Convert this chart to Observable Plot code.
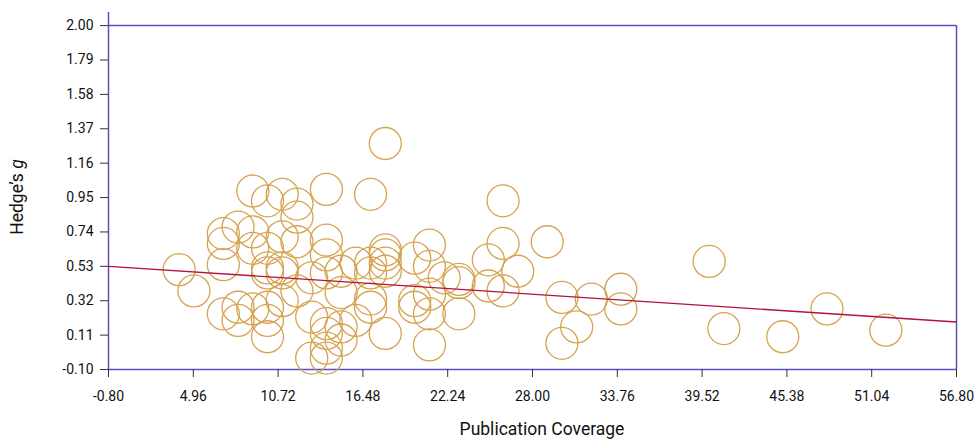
<!DOCTYPE html>
<html><head><meta charset="utf-8">
<script src="https://cdn.jsdelivr.net/npm/d3@7"></script>
<script src="https://cdn.jsdelivr.net/npm/@observablehq/plot@0.6"></script>
<style>body{margin:0;background:#fff;}</style>
</head><body><div id="chart"></div>
<script>
const coverage = [4,5,7,7,7,8,7,8,8,9,10,11,12,12,9,9,10,11,12,10,10,11,11,9,10,10,11,10,12,13,14,14,14,15,16,17,18,18,18,17,15,17,17,13,14,14,15,15,16,18,13,14,14,14,17,18,18,20,21,21,20,21,21,20,22,23,23,21,25,25,26,27,26,26,29,30,30,31,32,34,34,40,41,45,48,52,23];
const hedgesG = [0.51,0.38,0.73,0.67,0.54,0.77,0.24,0.28,0.20,0.99,0.93,0.97,0.91,0.83,0.74,0.64,0.64,0.71,0.68,0.52,0.49,0.52,0.49,0.27,0.28,0.20,0.32,0.10,0.38,0.46,0.69,0.60,0.49,0.50,0.55,0.55,0.60,0.55,0.50,0.49,0.37,0.33,0.28,0.22,0.18,0.12,0.16,0.08,0.20,0.12,-0.03,-0.03,0.03,1.00,0.97,1.28,0.63,0.58,0.66,0.53,0.32,0.36,0.24,0.28,0.46,0.45,0.24,0.05,0.57,0.41,0.67,0.50,0.38,0.93,0.68,0.34,0.06,0.16,0.33,0.39,0.27,0.56,0.15,0.10,0.27,0.14,0.43];
const xTicks = [-0.8, 4.96, 10.72, 16.48, 22.24, 28.00, 33.76, 39.52, 45.28, 51.04, 56.80];
const xTickLabels = ["-0.80","4.96","10.72","16.48","22.24","28.00","33.76","39.52","45.38","51.04","56.80"];
const yTicks = [-0.10,0.11,0.32,0.53,0.74,0.95,1.16,1.37,1.58,1.79,2.00];
const yTickLabels = ["-0.10","0.11","0.32","0.53","0.74","0.95","1.16","1.37","1.58","1.79","2.00"];
const fitX = [-0.8, 56.8];
const fitY = [0.53, 0.19];

const points = coverage.map((c, i) => ({x: c, y: hedgesG[i]}));
const fit = fitX.map((x, i) => ({x, y: fitY[i]}));

const frameColor = "#5a4fbf";
const W = 979, H = 439, mL = 108, mR = 23, mT = 12, mB = 70;

const plot = Plot.plot({
  width: W, height: H,
  marginLeft: mL, marginRight: mR, marginTop: mT, marginBottom: mB,
  style: {fontFamily: "Roboto", fontSize: "14px", color: "#111", background: "#fff"},
  x: {domain: [-0.8, 56.8]},
  y: {domain: [-0.1, 2.08]},
  marks: [
    Plot.ruleY([yTicks[yTicks.length-1]], {stroke: frameColor, strokeWidth: 1.5}),
    Plot.ruleY([yTicks[0]], {stroke: frameColor, strokeWidth: 1.5}),
    Plot.ruleX([xTicks[0]], {stroke: frameColor, strokeWidth: 1.5}),
    Plot.ruleX([xTicks[xTicks.length-1]], {y1: yTicks[0], y2: yTicks[yTicks.length-1], stroke: frameColor, strokeWidth: 1.5}),
    Plot.axisX(xTicks, {tickFormat: (d, i) => xTickLabels[i], tickSize: 8, tickPadding: 14, stroke: "#333", label: null}),
    Plot.axisY(yTicks, {tickFormat: (d, i) => yTickLabels[i], tickSize: 8, tickPadding: 7, stroke: "#333", label: null}),
    Plot.dot(points, {x: "x", y: "y", r: 16, stroke: "#d6a350", strokeWidth: 1.3, fill: "none"}),
    Plot.line(fit, {x: "x", y: "y", stroke: "#b3123f", strokeWidth: 1.3})
  ]
});

const svg = d3.select(plot);
svg.append("text")
  .attr("x", (mL + W - mR) / 2 + 10).attr("y", 430)
  .attr("text-anchor", "middle").attr("dominant-baseline", "middle")
  .attr("font-family", "Roboto").attr("font-size", 17.5).attr("fill", "#111")
  .text("Publication Coverage");
const yl = svg.append("text")
  .attr("transform", `translate(18,197) rotate(-90)`)
  .attr("text-anchor", "middle").attr("dominant-baseline", "middle")
  .attr("font-family", "Roboto").attr("font-size", 17.5).attr("fill", "#111");
yl.append("tspan").text("Hedge\u2019s ");
yl.append("tspan").attr("font-style", "italic").text("g");

document.getElementById("chart").appendChild(plot);
</script>
</body></html>
